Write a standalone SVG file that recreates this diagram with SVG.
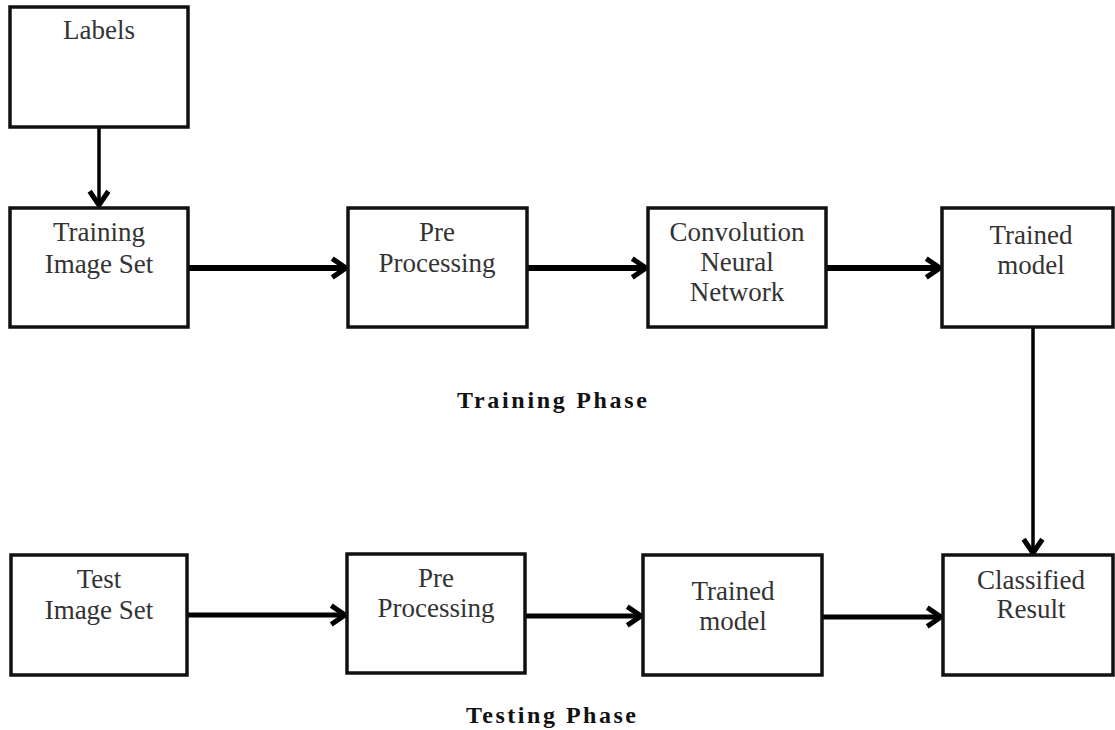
<svg xmlns="http://www.w3.org/2000/svg" width="1115" height="730" viewBox="0 0 1115 730">
<style>
.box{fill:#fff;stroke:#111;stroke-width:3.5}
.t{font-family:"Liberation Serif",serif;font-size:27px;fill:#333;text-anchor:middle}
.h{font-family:"Liberation Serif",serif;font-size:24px;font-weight:bold;fill:#111;text-anchor:middle}
.c{fill:none;stroke:#000}
</style>
<defs>
<marker id="ah" markerUnits="userSpaceOnUse" markerWidth="30" markerHeight="30" viewBox="-16 -12 20 24" refX="0" refY="0" orient="auto">
<polyline points="-11,-7.5 0,0 -11,7.5" fill="none" stroke="#000" stroke-width="4" stroke-linejoin="miter"/>
</marker>
</defs>
<rect width="1115" height="730" fill="#fff"/>
<g id="connectors">
<line class="c" x1="99" y1="127" x2="99" y2="205" stroke-width="3.5" marker-end="url(#ah)"/>
<line class="c" x1="188" y1="268" x2="346" y2="268" stroke-width="6" marker-end="url(#ah)"/>
<line class="c" x1="527" y1="268" x2="646" y2="268" stroke-width="6" marker-end="url(#ah)"/>
<line class="c" x1="826" y1="268" x2="940" y2="268" stroke-width="6" marker-end="url(#ah)"/>
<line class="c" x1="1033" y1="327" x2="1033" y2="553" stroke-width="3.5" marker-end="url(#ah)"/>
<line class="c" x1="187" y1="615" x2="345" y2="615" stroke-width="5" marker-end="url(#ah)"/>
<line class="c" x1="525" y1="616" x2="641" y2="616" stroke-width="5" marker-end="url(#ah)"/>
<line class="c" x1="822" y1="617" x2="941" y2="617" stroke-width="5" marker-end="url(#ah)"/>
</g>
<g id="labels"><rect class="box" x="10" y="7" width="178" height="120"/><text class="t" x="99" y="39">Labels</text></g>
<g id="training-image-set"><rect class="box" x="10" y="208" width="178" height="119"/><text class="t" x="99" y="241">Training</text><text class="t" x="99" y="273">Image Set</text></g>
<g id="pre-processing-1"><rect class="box" x="348" y="208" width="179" height="119"/><text class="t" x="437" y="241">Pre</text><text class="t" x="437" y="272">Processing</text></g>
<g id="cnn"><rect class="box" x="648" y="208" width="178" height="119"/><text class="t" x="737" y="241">Convolution</text><text class="t" x="737" y="271">Neural</text><text class="t" x="737" y="301">Network</text></g>
<g id="trained-model-1"><rect class="box" x="942" y="208" width="171" height="119"/><text class="t" x="1031" y="244">Trained</text><text class="t" x="1031" y="274">model</text></g>
<g id="training-phase"><text class="h" x="552" y="408" textLength="190" lengthAdjust="spacing">Training Phase</text></g>
<g id="test-image-set"><rect class="box" x="11" y="555" width="176" height="120"/><text class="t" x="99" y="588">Test</text><text class="t" x="99" y="619">Image Set</text></g>
<g id="pre-processing-2"><rect class="box" x="347" y="554" width="178" height="119"/><text class="t" x="436" y="587">Pre</text><text class="t" x="436" y="617">Processing</text></g>
<g id="trained-model-2"><rect class="box" x="643" y="555" width="179" height="120"/><text class="t" x="733" y="600">Trained</text><text class="t" x="733" y="630">model</text></g>
<g id="classified-result"><rect class="box" x="943" y="555" width="170" height="120"/><text class="t" x="1031" y="589">Classified</text><text class="t" x="1031" y="618">Result</text></g>
<g id="testing-phase"><text class="h" x="551" y="723" textLength="170" lengthAdjust="spacing">Testing Phase</text></g>
</svg>
